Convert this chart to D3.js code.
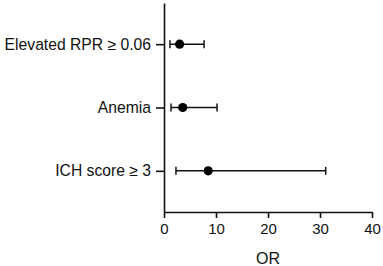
<!DOCTYPE html>
<html>
<head>
<meta charset="utf-8">
<script src="https://cdn.jsdelivr.net/npm/d3@7"></script>
<style>
  body { margin: 0; background: #fff; }
  text { font-family: "Liberation Sans", Arial, Helvetica, sans-serif; fill: #111; }
</style>
</head>
<body>
<div id="chart"></div>
<script>
// Forest plot data (odds ratios with 95% CI)
const factors = ["Elevated RPR \u2265 0.06", "Anemia", "ICH score \u2265 3"];
const orValues = [3.0, 3.6, 8.5];
const ciLower = [1.15, 1.35, 2.3];
const ciUpper = [7.7, 10.2, 31.1];
const xTicks = [0, 10, 20, 30, 40];

const margin = { top: 3, right: 11, bottom: 54, left: 164 },
    width = 383 - margin.left - margin.right,
    height = 266 - margin.top - margin.bottom;

const svg = d3.select("#chart").append("svg")
    .attr("width", width + margin.left + margin.right)
    .attr("height", height + margin.top + margin.bottom)
    .append("g")
    .attr("transform", `translate(${margin.left},${margin.top})`);

// Scales
const x = d3.scaleLinear().domain([0, 40]).range([0, width]);
const y = d3.scalePoint().domain(factors).range([0, height]).padding(0.65);

// X axis
const xAxis = svg.append("g")
    .attr("transform", `translate(0,${height})`)
    .call(d3.axisBottom(x).tickValues(xTicks).tickSize(6).tickSizeOuter(0).tickPadding(5));
xAxis.selectAll("text").style("font-size", "15px");

// Y axis
const yAxis = svg.append("g")
    .call(d3.axisLeft(y).tickSize(8).tickSizeOuter(0).tickPadding(5));
yAxis.selectAll("text").style("font-size", "15.7px");

svg.selectAll(".domain, .tick line")
    .attr("stroke", "#111")
    .attr("stroke-width", 1.6);

// Axis title
svg.append("text")
    .attr("x", width / 2)
    .attr("y", height + 52)
    .attr("text-anchor", "middle")
    .style("font-size", "16px")
    .text("OR");

const rows = factors.map((f, i) => ({ f, or: orValues[i], lo: ciLower[i], hi: ciUpper[i] }));

// Whiskers
svg.selectAll(".ci")
    .data(rows).enter().append("line")
    .attr("x1", d => x(d.lo)).attr("x2", d => x(d.hi))
    .attr("y1", d => y(d.f)).attr("y2", d => y(d.f))
    .attr("stroke", "#111").attr("stroke-width", 1.5);

// Caps
["lo", "hi"].forEach(k => {
    svg.selectAll(".cap-" + k)
        .data(rows).enter().append("line")
        .attr("x1", d => x(d[k])).attr("x2", d => x(d[k]))
        .attr("y1", d => y(d.f) - 4).attr("y2", d => y(d.f) + 4)
        .attr("stroke", "#111").attr("stroke-width", 1.5);
});

// Points
svg.selectAll(".pt")
    .data(rows).enter().append("circle")
    .attr("cx", d => x(d.or))
    .attr("cy", d => y(d.f))
    .attr("r", 4.6)
    .attr("fill", "#000");
</script>
</body>
</html>
